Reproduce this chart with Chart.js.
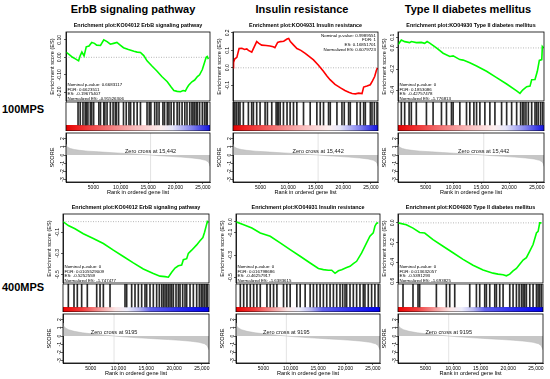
<!DOCTYPE html>
<html>
<head>
<meta charset="utf-8">
<script src="https://cdn.jsdelivr.net/npm/chart.js@4.4.1/dist/chart.umd.min.js"></script>
<style>
body { margin: 0; background: #fff; width: 550px; height: 379px; position: relative; overflow: hidden;
       font-family: "Liberation Sans", Arial, sans-serif; }
canvas { position: absolute; }
.lbl { position: absolute; font-weight: bold; white-space: nowrap; transform: translate(-50%, -50%); color: #000; }
</style>
</head>
<body>
<div class="lbl" style="left:133px;top:9px;font-size:11px">ErbB signaling pathway</div>
<div class="lbl" style="left:302px;top:9px;font-size:11px">Insulin resistance</div>
<div class="lbl" style="left:468px;top:9px;font-size:11px">Type II diabetes mellitus</div>
<div class="lbl" style="left:23px;top:109px;font-size:11px">100MPS</div>
<div class="lbl" style="left:23px;top:287px;font-size:11px">400MPS</div>
<script>
// ---- data ----
const xMax = 26300;
const xTicks = [5000, 10000, 15000, 20000, 25000];
const xTickLabels = ['5000', '10,000', '15,000', '20,000', '25,000'];
const scoreTicks = [2, 1, 0, -1, -2, -3];
const zeroCross = [15442, 9195];

// 100MPS - ErbB
const erbb100Rank = [0, 600, 1200, 1800, 2300, 2600, 2900, 3300, 3700, 4200, 4700, 5200, 5600, 6300, 6900, 7500, 8100, 8700, 9300, 9900, 10500, 11400, 12400, 13000, 13600, 14200, 14800, 15700, 16600, 17500, 18500, 19200, 19700, 20300, 20900, 21400, 21800, 22100, 22400, 23000, 23500, 24000, 24400, 24900, 25300, 25600, 25800, 26000];
const erbb100ES = [0.03, 0.015, 0.0, -0.01, -0.02, 0.01, 0.03, 0.008, 0.06, 0.065, 0.085, 0.08, 0.07, 0.068, 0.1, 0.09, 0.075, 0.08, 0.085, 0.07, 0.055, 0.045, 0.035, 0.03, 0.028, 0.01, -0.02, -0.05, -0.078, -0.11, -0.14, -0.17, -0.19, -0.195, -0.197, -0.19, -0.193, -0.175, -0.16, -0.14, -0.13, -0.11, -0.1, -0.07, -0.03, 0.0, 0.005, -0.01];
const erbb100Hits = [2200, 2600, 3100, 3500, 3700, 4000, 4450, 4700, 5050, 6000, 6300, 6900, 7100, 7500, 8100, 8600, 9000, 9200, 9600, 10500, 11000, 11500, 11800, 12400, 13000, 13600, 14800, 15200, 15500, 16200, 16600, 17000, 17700, 18000, 18500, 18800, 19200, 19700, 20300, 20700, 21200, 21700, 22100, 22600, 23000, 23200, 23500, 23800, 24000, 24400, 24900, 25300, 25600, 25800];
const erbb100Stats = ['Nominal p-value: 0.6683117', 'FDR: 0.6623511', 'ES: -0.19675407', 'Normalized ES: -0.91526306'];

// 100MPS - Insulin resistance
const insulin100Rank = [0, 100, 300, 700, 1100, 1600, 2100, 2500, 2800, 3400, 3700, 4300, 4700, 5200, 6000, 6700, 7300, 7600, 8100, 8600, 9200, 9800, 10100, 10400, 11000, 11600, 12300, 13100, 13800, 14600, 15500, 16400, 17000, 17600, 18500, 19500, 20300, 21000, 21600, 22200, 22800, 23400, 23700, 24300, 24900, 25300, 25700, 26000, 26200];
const insulin100ES = [0.0, 0.03, 0.05, 0.06, 0.11, 0.112, 0.105, 0.108, 0.1, 0.09, 0.11, 0.15, 0.14, 0.13, 0.128, 0.125, 0.12, 0.115, 0.145, 0.15, 0.152, 0.165, 0.168, 0.15, 0.13, 0.11, 0.1, 0.083, 0.065, 0.045, 0.015, -0.02, -0.045, -0.068, -0.095, -0.115, -0.13, -0.14, -0.147, -0.149, -0.145, -0.148, -0.11, -0.104, -0.097, -0.075, -0.05, -0.015, 0.0];
const insulin100Hits = [60, 150, 360, 670, 1000, 1270, 1880, 2790, 3390, 3700, 4300, 4910, 5820, 6240, 7030, 7820, 8100, 8240, 8550, 9150, 9800, 10360, 10970, 11580, 12790, 14000, 15210, 15820, 16420, 17330, 17640, 18850, 19760, 20180, 20970, 21270, 22480, 23090, 23700, 24000, 24910, 25210, 25640, 26120];
const insulin100Stats = ['Nominal p-value: 0.9989551', 'FDR: 1', 'ES: 0.16851701', 'Normalized ES: 0.6079723'];

// 100MPS - Type II diabetes
const t2d100Rank = [0, 600, 1200, 2100, 2400, 3300, 4200, 4800, 5240, 5720, 6920, 8130, 9330, 9930, 11140, 11740, 12940, 14150, 15950, 17760, 19570, 21370, 21970, 22450, 23180, 23780, 24080, 24680, 25100, 25460, 25900, 26000, 26200];
const t2d100ES = [0.03, 0.074, 0.059, 0.05, 0.06, 0.05, 0.052, 0.043, 0.06, 0.045, 0.0, -0.05, -0.08, -0.075, -0.11, -0.115, -0.14, -0.17, -0.22, -0.28, -0.34, -0.405, -0.428, -0.397, -0.365, -0.36, -0.3, -0.298, -0.22, -0.118, -0.11, 0.012, 0.0];
const t2d100Hits = [600, 1200, 2000, 2400, 3300, 5120, 6320, 7830, 8730, 9630, 9930, 11140, 12340, 12940, 13670, 14150, 14750, 15650, 16550, 17460, 18660, 19570, 20470, 21370, 22090, 22450, 22690, 23050, 23480, 24080, 24680, 24980, 25280, 25700, 26070];
const t2d100Stats = ['Nominal p-value: 0', 'FDR: 0.1853086', 'ES: -0.42757478', 'Normalized ES: -1.776813'];

// 400MPS - ErbB
const erbb400Rank = [0, 960, 2160, 3660, 5460, 7270, 9070, 10870, 12670, 14470, 16270, 17470, 18380, 18980, 19580, 20180, 20780, 21380, 21680, 22280, 22580, 23180, 24080, 24680, 25200, 25500, 25800, 26000, 26200];
const erbb400ES = [0.0, -0.037, -0.068, -0.114, -0.16, -0.207, -0.27, -0.33, -0.39, -0.447, -0.49, -0.515, -0.52, -0.525, -0.478, -0.438, -0.417, -0.41, -0.36, -0.35, -0.3, -0.27, -0.22, -0.18, -0.15, -0.1, -0.04, 0.0, -0.01];
const erbb400Hits = [960, 1980, 2580, 3360, 4380, 6070, 6670, 7270, 8470, 11170, 11470, 12370, 12970, 13570, 14170, 14770, 15070, 15670, 16270, 16870, 17350, 17780, 18080, 18380, 18680, 18980, 19280, 19580, 19880, 20360, 20780, 21080, 21560, 21980, 22280, 22880, 23480, 24080, 24560, 24900, 25200, 25500, 25800, 26000];
const erbb400Stats = ['Nominal p-value: 0', 'FDR: 0.0105529009', 'ES: -0.5252559', 'Normalized ES: -1.747477'];

// 400MPS - Insulin resistance
const insulin400Rank = [0, 1400, 2900, 4430, 6250, 8070, 9890, 11720, 13540, 15050, 15960, 16870, 17480, 18090, 18700, 19300, 20210, 20820, 21430, 22030, 22950, 23850, 24460, 25070, 25370, 25680, 25980];
const insulin400ES = [0.0, -0.027, -0.056, -0.1, -0.13, -0.19, -0.25, -0.31, -0.37, -0.42, -0.43, -0.435, -0.435, -0.463, -0.44, -0.43, -0.41, -0.4, -0.375, -0.355, -0.28, -0.19, -0.13, -0.1, -0.04, -0.012, -0.01];
const insulin400Hits = [790, 1400, 2000, 2610, 3220, 3820, 4430, 5650, 6250, 6860, 7470, 8680, 9290, 9890, 11110, 11720, 12630, 13540, 14140, 14750, 15360, 15960, 16570, 17180, 17790, 18390, 19000, 19480, 19910, 20210, 20820, 21430, 22030, 22640, 23250, 23550, 24160, 24770, 25370, 25980];
const insulin400Stats = ['Nominal p-value: 0', 'FDR: 0.016798686', 'ES: -0.46257917', 'Normalized ES: -1.6383615'];

// 400MPS - Type II diabetes
const t2d400Rank = [0, 1510, 2720, 3930, 4840, 6350, 8170, 9980, 11800, 13610, 15430, 17240, 18150, 19060, 19660, 20270, 20870, 21480, 22080, 22690, 23290, 23900, 24500, 25110, 25410, 25710, 26020];
const t2d400ES = [0.0, -0.02, -0.053, -0.097, -0.103, -0.17, -0.237, -0.303, -0.37, -0.43, -0.477, -0.51, -0.52, -0.527, -0.537, -0.52, -0.487, -0.463, -0.42, -0.377, -0.353, -0.287, -0.22, -0.103, -0.087, 0.0, 0.0];
const t2d400Hits = [910, 2720, 3630, 3930, 6960, 8770, 9380, 10290, 13010, 14220, 14820, 15730, 16030, 16640, 17550, 17850, 18450, 19060, 20270, 20870, 21480, 21960, 22390, 22690, 22990, 23290, 23900, 24500, 25110, 25410, 25710, 26020];
const t2d400Stats = ['Nominal p-value: 0', 'FDR: 0.013632057', 'ES: -0.5391293', 'Normalized ES: -1.693825'];

// ranked list metric
const score100Rank = [0, 100, 300, 800, 1500, 2500, 4000, 6000, 8000, 10000, 12000, 14000, 15442, 17000, 19000, 21000, 23000, 24500, 25500, 26000, 26200, 26300];
const score100Value = [1.3, 1.1, 0.95, 0.8, 0.68, 0.58, 0.48, 0.39, 0.31, 0.23, 0.15, 0.07, 0, -0.08, -0.16, -0.25, -0.36, -0.48, -0.65, -0.85, -1.1, -1.4];
const score400Rank = [0, 100, 400, 1000, 2000, 3500, 5500, 7500, 9195, 11000, 13000, 15000, 17000, 19000, 21000, 23000, 24500, 25500, 26000, 26300];
const score400Value = [1.6, 1.25, 1.0, 0.78, 0.58, 0.4, 0.24, 0.11, 0, -0.1, -0.19, -0.27, -0.35, -0.43, -0.52, -0.63, -0.77, -0.95, -1.2, -1.7];

const titles = ['Enrichment plot:KO04012 ErbB signaling pathway', 'Enrichment plot:KO04931 Insulin resistance', 'Enrichment plot:KO04930 Type II diabetes mellitus'];

// ---- layout / style ----
const rows = [
  { esTop: 32, esBot: 102, bandTop: 125, hitBot: 131, scoreBot: 182, cols: [[66, 210], [233, 378], [398, 544]],
    band: [[0, '#e00000'], [0.08, '#ee2020'], [0.24, '#f06060'], [0.47, '#f8b8b8'], [0.66, '#fdf0f0'], [0.74, '#e6e6fa'], [0.88, '#7c7cee'], [1, '#1010e0']] },
  { esTop: 214, esBot: 284, bandTop: 307, hitBot: 312, scoreBot: 363, cols: [[63, 209], [236, 380], [398, 543]],
    band: [[0, '#ee0000'], [0.13, '#f03a3a'], [0.27, '#f4a6a6'], [0.36, '#fbe6e6'], [0.44, '#eeeefc'], [0.52, '#b8b8f2'], [0.6, '#6060ee'], [0.8, '#2a2af0'], [1, '#0000ee']] }
];
const scoreRange = [-3.3, 2.7];

const panels = [
  { row: 0, col: 0, rank: erbb100Rank, es: erbb100ES, hits: erbb100Hits, stats: erbb100Stats, color: '#00ff00', yr: [-0.25, 0.145], ticks: [0.1, 0, -0.1, -0.2], dec: 2, corner: 'bl' },
  { row: 0, col: 1, rank: insulin100Rank, es: insulin100ES, hits: insulin100Hits, stats: insulin100Stats, color: '#ff0000', yr: [-0.19, 0.205], ticks: [0.2, 0.1, 0, -0.1], dec: 1, corner: 'tr' },
  { row: 0, col: 2, rank: t2d100Rank, es: t2d100ES, hits: t2d100Hits, stats: t2d100Stats, color: '#00ff00', yr: [-0.5, 0.15], ticks: [0.1, 0, -0.2, -0.4], dec: 1, corner: 'bl' },
  { row: 1, col: 0, rank: erbb400Rank, es: erbb400ES, hits: erbb400Hits, stats: erbb400Stats, color: '#00ff00', yr: [-0.58, 0.072], ticks: [-0.1, -0.3, -0.5], dec: 1, corner: 'bl' },
  { row: 1, col: 1, rank: insulin400Rank, es: insulin400ES, hits: insulin400Hits, stats: insulin400Stats, color: '#00ff00', yr: [-0.55, 0.07], ticks: [0, -0.1, -0.3, -0.5], dec: 1, corner: 'bl' },
  { row: 1, col: 2, rank: t2d400Rank, es: t2d400ES, hits: t2d400Hits, stats: t2d400Stats, color: '#00ff00', yr: [-0.61, 0.09], ticks: [0, -0.2, -0.4, -0.6], dec: 1, corner: 'bl' }
];
const scores = [
  { rank: score100Rank, value: score100Value, zc: zeroCross[0], label: 'Zero cross at 15,442' },
  { rank: score400Rank, value: score400Value, zc: zeroCross[1], label: 'Zero cross at 9195' }
];

Chart.defaults.font.family = '"Liberation Sans", Arial, sans-serif';
Chart.defaults.color = '#000';

const MARGIN = 32, YW = 17, RPAD = 3;

const framePlugin = {
  id: 'frame',
  afterDatasetsDraw(chart) {
    const a = chart.chartArea, c = chart.ctx;
    c.save();
    c.strokeStyle = '#000';
    c.lineWidth = 0.8;
    c.strokeRect(a.left, a.top, a.right - a.left, a.bottom - a.top);
    c.restore();
  }
};

const notesPlugin = {
  id: 'notes',
  afterDraw(chart, args, o) {
    const a = chart.chartArea, c = chart.ctx;
    c.save();
    c.fillStyle = '#000';
    if (o.subtitle) {
      c.font = 'bold 5.4px "Liberation Sans", Arial, sans-serif';
      c.textAlign = 'center';
      c.textBaseline = 'middle';
      c.fillText(o.subtitle, (a.left + a.right) / 2, a.top - 6.5);
    }
    if (o.lines) {
      c.font = '4.4px "Liberation Sans", Arial, sans-serif';
      c.textBaseline = 'middle';
      o.lines.forEach((t, i) => {
        if (o.corner === 'tr') {
          c.textAlign = 'right';
          c.fillText(t, a.right - 2, a.top + 3.5 + i * 4.6);
        } else {
          c.textAlign = 'left';
          c.fillText(t, a.left + 1.5, a.bottom - 2.5 - (o.lines.length - 1 - i) * 4.6);
        }
      });
    }
    if (o.zcLabel) {
      const x = chart.scales.x.getPixelForValue(o.zc);
      const y = chart.scales.y.getPixelForValue(0.5);
      c.font = '5.6px "Liberation Sans", Arial, sans-serif';
      c.fillStyle = '#222';
      c.textAlign = 'center';
      c.textBaseline = 'middle';
      c.fillText(o.zcLabel, x, y);
    }
    c.restore();
  }
};

function makeCanvas(x, y, w, h) {
  const cv = document.createElement('canvas');
  cv.width = w; cv.height = h;
  cv.style.left = x + 'px'; cv.style.top = y + 'px';
  cv.style.width = w + 'px'; cv.style.height = h + 'px';
  document.body.appendChild(cv);
  return cv;
}

function yAxis(min, max, ticks, fmt, title) {
  return {
    min: min, max: max,
    afterBuildTicks: s => { s.ticks = ticks.map(v => ({ value: v })); },
    afterFit: s => { s.width = YW; },
    ticks: { font: { size: 5 }, color: '#000', minRotation: 90, maxRotation: 90, crossAlign: 'center', padding: -1, callback: fmt },
    grid: { drawOnChartArea: false, tickLength: 2, color: '#000', lineWidth: 0.6 },
    border: { color: '#000', width: 0.8 },
    title: { display: true, text: title, font: { size: 5.6 }, color: '#000', padding: 0 }
  };
}

const base = {
  animation: false, responsive: false, events: [],
  plugins: { legend: { display: false }, tooltip: { enabled: false } }
};

panels.forEach(p => {
  const r = rows[p.row];
  const [L, R] = r.cols[p.col];
  const W = R - L + MARGIN + RPAD;

  // running enrichment score
  new Chart(makeCanvas(L - MARGIN, r.esTop - 12, W, r.esBot - r.esTop + 13), {
    type: 'line',
    data: { datasets: [
      { data: p.rank.map((x, i) => ({ x: x, y: p.es[i] })), borderColor: p.color, borderWidth: 1.6, pointRadius: 0 },
      { data: [{ x: 0, y: 0 }, { x: xMax, y: 0 }], borderColor: '#888', borderWidth: 0.6, borderDash: [1, 1.5], pointRadius: 0 }
    ] },
    options: { ...base,
      layout: { padding: { left: MARGIN - YW, right: RPAD, top: 12, bottom: 1 } },
      plugins: { ...base.plugins, notes: { subtitle: titles[p.col], lines: p.stats, corner: p.corner } },
      scales: {
        x: { type: 'linear', min: 0, max: xMax, display: false },
        y: yAxis(p.yr[0], p.yr[1], p.ticks, v => v.toFixed(p.dec), 'Enrichment score (ES)')
      }
    },
    plugins: [framePlugin, notesPlugin]
  });

  // gene hits + colour bar
  const bandFrac = (r.hitBot - r.bandTop) / (r.hitBot - r.esBot);
  new Chart(makeCanvas(L - MARGIN, r.esBot, W, r.hitBot - r.esBot), {
    type: 'bar',
    data: { datasets: [
      { type: 'bar', data: p.hits.map(x => ({ x: x, y: [bandFrac, 1] })), backgroundColor: '#2a2a2a', barThickness: 1 },
      { type: 'line', data: [{ x: 0, y: bandFrac }, { x: xMax, y: bandFrac }], fill: 'origin', borderWidth: 0, pointRadius: 0,
        backgroundColor: ctx => {
          const a = ctx.chart.chartArea;
          if (!a) return '#fff';
          const g = ctx.chart.ctx.createLinearGradient(a.left, 0, a.right, 0);
          r.band.forEach(s => g.addColorStop(s[0], s[1]));
          return g;
        } }
    ] },
    options: { ...base,
      layout: { padding: { left: MARGIN, right: RPAD, top: 0, bottom: 0 } },
      scales: {
        x: { type: 'linear', min: 0, max: xMax, display: false, offset: false },
        y: { min: 0, max: 1, display: false }
      }
    },
    plugins: [framePlugin]
  });

  // ranked list metric
  const s = scores[p.row];
  new Chart(makeCanvas(L - MARGIN, r.hitBot, W, r.scoreBot - r.hitBot + 15), {
    type: 'line',
    data: { datasets: [
      { data: s.rank.map((x, i) => ({ x: x, y: s.value[i] })), fill: 'origin', backgroundColor: '#c6c6c6', borderColor: '#b4b4b4', borderWidth: 0.5, pointRadius: 0 },
      { data: [{ x: s.zc, y: scoreRange[0] }, { x: s.zc, y: scoreRange[1] }], borderColor: '#dcdcdc', borderWidth: 0.8, pointRadius: 0 }
    ] },
    options: { ...base,
      layout: { padding: { left: MARGIN - YW, right: RPAD, top: 0, bottom: 1 } },
      plugins: { ...base.plugins, notes: { zc: s.zc, zcLabel: s.label } },
      scales: {
        x: {
          type: 'linear', min: 0, max: xMax,
          afterBuildTicks: a => { a.ticks = xTicks.map(v => ({ value: v })); },
          afterFit: a => { a.height = 14; },
          ticks: { font: { size: 5 }, color: '#000', maxRotation: 0, autoSkip: false, padding: 1,
                   callback: (v, i) => xTickLabels[i] },
          grid: { drawOnChartArea: false, tickLength: 2, color: '#000', lineWidth: 0.6 },
          border: { color: '#000', width: 0.8 },
          title: { display: true, text: 'Rank in ordered gene list', font: { size: 5.6 }, color: '#000', padding: 0 }
        },
        y: yAxis(scoreRange[0], scoreRange[1], scoreTicks, v => String(v), 'SCORE')
      }
    },
    plugins: [framePlugin, notesPlugin]
  });
});
</script>
</body>
</html>
